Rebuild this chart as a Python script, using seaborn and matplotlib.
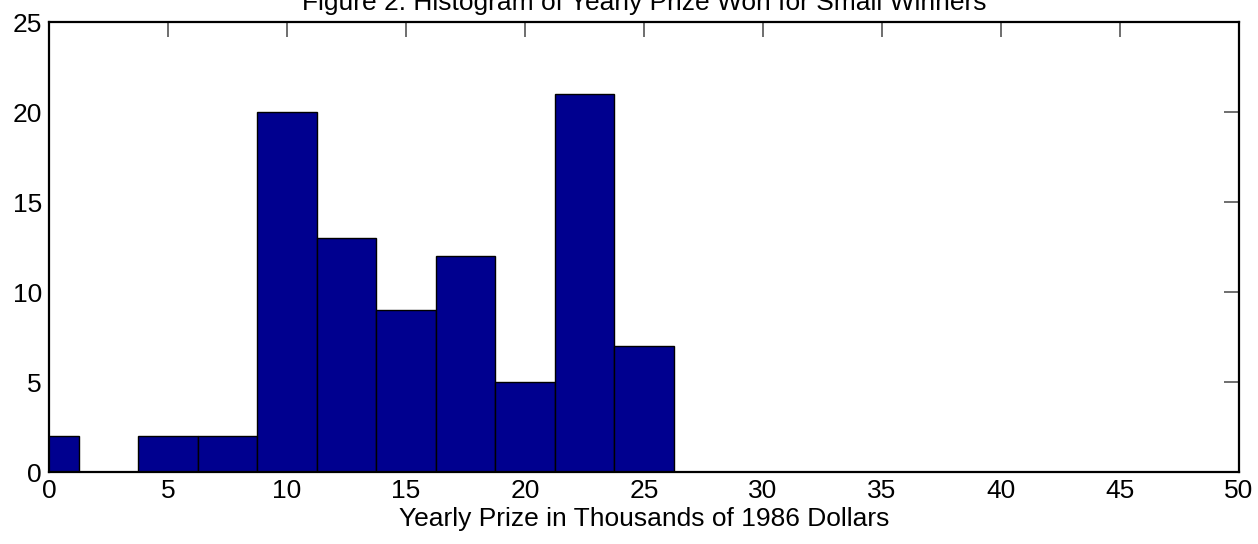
#! /usr/bin/env python3
import matplotlib
matplotlib.use('Agg')
import matplotlib.pyplot as plt
import seaborn as sns

# histogram data (bin centers and counts)
bin_centers = [0, 2.5, 5, 7.5, 10, 12.5, 15, 17.5, 20, 22.5, 25]
counts = [2, 0, 2, 2, 20, 13, 9, 12, 5, 21, 7]
bin_edges = [c - 1.25 for c in bin_centers] + [bin_centers[-1] + 1.25]
x_ticks = [0, 5, 10, 15, 20, 25, 30, 35, 40, 45, 50]
y_ticks = [0, 5, 10, 15, 20, 25]

title = "Figure 2. Histogram of Yearly Prize Won for Small Winners"
xlabel = "Yearly Prize in Thousands of 1986 Dollars"

sns.set_style('white')
plt.rcParams['font.family'] = ['Liberation Sans', 'DejaVu Sans']
plt.rcParams['text.color'] = 'black'
plt.rcParams['axes.labelcolor'] = 'black'

fig = plt.figure(figsize=(12.58, 5.44), dpi=100)
W, H = 1258, 544
ax = fig.add_axes([49 / W, 1 - 472 / H, (1239 - 49) / W, (472 - 22) / H])

sns.histplot(x=bin_centers, weights=counts, bins=bin_edges, ax=ax,
             color='#00008f', alpha=1, edgecolor='black', linewidth=1)

ax.set_xlim(0, 50)
ax.set_ylim(0, 25)
ax.set_xticks(x_ticks)
ax.set_yticks(y_ticks)
ax.tick_params(direction='in', length=11, width=1.2, color='#555555',
               labelcolor='black', labelsize=19, top=True, right=True, pad=5)
for s in ax.spines.values():
    s.set_linewidth(1.6)
    s.set_color('black')
    s.set_zorder(5)
ax.set_ylabel('')
ax.set_xlabel(xlabel, fontsize=19, labelpad=3, color='black')

fig.text(644 / W, 1 - 10 / H, title, ha='center', va='baseline', fontsize=19, color='black')

fig.savefig('out.png', dpi=100)
